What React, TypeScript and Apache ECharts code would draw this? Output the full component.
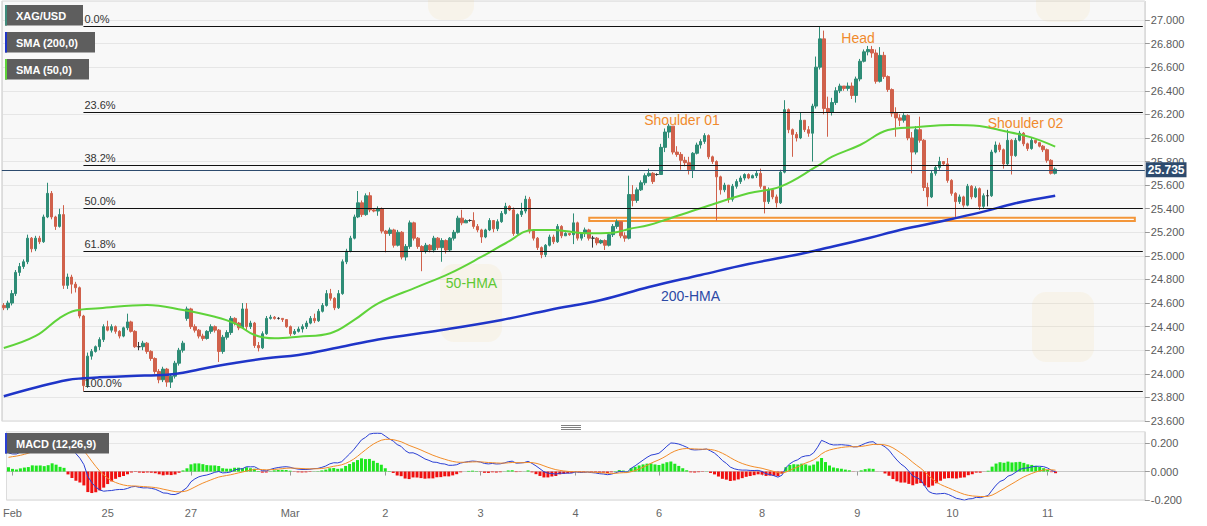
import React, { useEffect, useRef } from "react";
import * as echarts from "echarts";

// ---------- DATA (hourly XAG/USD) ----------
const firstOpen = 24.58;
const sessionOpens: [number, number][] = [[46, 24.47], [164, 25.69]];

const closes = [
  24.56,24.60,24.68,24.86,24.91,24.95,25.15,25.06,25.15,25.12,
  25.33,25.53,25.33,25.25,25.35,24.75,24.82,24.76,24.73,24.49,
  23.90,24.15,24.19,24.23,24.29,24.40,24.37,24.40,24.36,24.32,
  24.39,24.44,24.36,24.23,24.23,24.26,24.19,24.13,24.02,23.95,
  24.04,23.93,23.98,24.09,24.20,24.26,24.55,24.40,24.37,24.32,
  24.30,24.36,24.40,24.37,24.19,24.31,24.35,24.47,24.43,24.39,
  24.55,24.40,24.43,24.24,24.22,24.34,24.47,24.48,24.47,24.47,
  24.46,24.40,24.34,24.36,24.38,24.40,24.43,24.47,24.45,24.53,
  24.58,24.68,24.64,24.56,24.68,24.95,25.04,25.15,25.33,25.45,
  25.35,25.51,25.39,25.38,25.40,25.21,25.19,25.22,25.09,25.20,
  24.99,25.08,25.28,25.15,25.08,25.04,25.09,25.05,25.15,25.07,
  25.13,25.05,25.15,25.20,25.32,25.28,25.30,25.30,25.25,25.22,
  25.16,25.22,25.30,25.23,25.29,25.36,25.42,25.39,25.19,25.35,
  25.38,25.48,25.21,25.15,25.07,25.01,25.09,25.16,25.12,25.25,
  25.17,25.19,25.18,25.28,25.15,25.19,25.22,25.15,25.15,25.11,
  25.13,25.09,25.18,25.25,25.29,25.17,25.15,25.52,25.47,25.56,
  25.62,25.68,25.70,25.63,25.69,25.92,26.05,26.10,25.88,25.86,
  25.81,25.79,25.73,25.87,25.94,25.97,26.02,25.84,25.80,25.67,
  25.56,25.60,25.48,25.59,25.63,25.66,25.69,25.66,25.68,25.70,
  25.59,25.46,25.56,25.50,25.45,25.71,26.24,26.07,26.03,26.00,
  26.15,26.07,26.04,26.27,26.60,26.84,26.25,26.22,26.30,26.40,
  26.44,26.42,26.44,26.36,26.50,26.65,26.73,26.75,26.72,26.48,
  26.70,26.52,26.41,26.21,26.17,26.15,26.19,26.00,25.88,26.07,
  25.98,25.58,25.50,25.70,25.75,25.80,25.78,25.64,25.53,25.46,
  25.50,25.43,25.59,25.50,25.57,25.42,25.51,25.51,25.88,25.94,
  25.90,25.78,25.98,25.85,25.98,26.04,25.95,25.91,25.98,25.96,
  25.93,25.90,25.81,25.70,25.735,
];

const highs = [
  24.60,24.62,24.71,24.88,24.94,24.97,25.18,25.16,25.17,25.17,
  25.35,25.62,25.55,25.34,25.40,25.43,24.85,24.84,24.78,24.74,
  24.50,24.18,24.21,24.24,24.31,24.42,24.45,24.42,24.41,24.37,
  24.40,24.51,24.45,24.37,24.27,24.28,24.27,24.20,24.14,24.04,
  24.06,24.05,24.00,24.11,24.22,24.28,24.57,24.56,24.42,24.38,
  24.34,24.37,24.42,24.41,24.38,24.33,24.37,24.49,24.48,24.44,
  24.60,24.60,24.45,24.44,24.27,24.36,24.49,24.50,24.49,24.48,
  24.47,24.46,24.41,24.38,24.40,24.42,24.45,24.49,24.51,24.55,
  24.60,24.71,24.72,24.65,24.71,24.97,25.06,25.17,25.35,25.55,
  25.47,25.53,25.54,25.40,25.42,25.41,25.22,25.24,25.23,25.22,
  25.21,25.10,25.30,25.29,25.16,25.09,25.11,25.10,25.17,25.16,
  25.15,25.14,25.16,25.22,25.34,25.39,25.31,25.31,25.37,25.27,
  25.23,25.23,25.32,25.26,25.31,25.38,25.45,25.43,25.41,25.36,
  25.45,25.51,25.50,25.21,25.16,25.08,25.10,25.18,25.18,25.27,
  25.26,25.20,25.19,25.36,25.29,25.20,25.24,25.23,25.17,25.16,
  25.14,25.14,25.19,25.27,25.31,25.29,25.20,25.68,25.60,25.58,
  25.64,25.70,25.74,25.71,25.70,25.95,26.08,26.12,26.10,25.93,
  25.88,25.84,25.84,25.88,25.96,25.99,26.04,26.03,25.85,25.81,
  25.68,25.62,25.60,25.61,25.65,25.68,25.70,25.70,25.69,25.72,
  25.74,25.59,25.58,25.57,25.52,25.73,26.32,26.25,26.08,26.05,
  26.22,26.15,26.10,26.29,26.69,26.94,26.91,26.35,26.34,26.43,
  26.46,26.44,26.47,26.47,26.52,26.67,26.75,26.78,26.78,26.75,
  26.77,26.73,26.53,26.42,26.26,26.20,26.21,26.20,26.05,26.10,
  26.18,25.99,25.62,25.72,25.77,25.84,25.80,25.83,25.65,25.54,
  25.52,25.51,25.61,25.60,25.59,25.58,25.53,25.56,25.90,25.97,
  25.96,25.91,26.07,25.99,26.00,26.06,26.05,25.96,26.00,25.97,
  25.94,25.94,25.91,25.82,25.75,
];

const lows = [
  24.54,24.54,24.58,24.66,24.83,24.89,24.93,25.03,25.04,25.10,
  25.11,25.32,25.31,25.22,25.24,24.72,24.72,24.68,24.69,24.47,
  23.855,23.88,24.12,24.18,24.20,24.27,24.36,24.35,24.34,24.30,
  24.31,24.37,24.35,24.22,24.20,24.20,24.17,24.11,24.00,23.92,
  23.93,23.89,23.88,23.96,24.07,24.18,24.45,24.38,24.35,24.30,
  24.28,24.29,24.34,24.35,24.10,24.17,24.29,24.33,24.41,24.37,
  24.38,24.37,24.38,24.22,24.19,24.21,24.33,24.46,24.46,24.46,
  24.44,24.39,24.32,24.33,24.35,24.35,24.38,24.42,24.43,24.44,
  24.52,24.57,24.62,24.54,24.55,24.67,24.93,25.03,25.14,25.32,
  25.33,25.34,25.37,25.37,25.34,25.19,25.03,25.17,25.07,25.08,
  24.97,24.96,25.06,25.13,25.06,24.87,25.02,25.03,25.03,25.05,
  24.95,25.02,25.04,25.13,25.19,25.26,25.29,25.29,25.23,25.20,
  25.11,25.15,25.21,25.20,25.21,25.28,25.35,25.38,25.17,25.18,
  25.33,25.36,25.19,25.13,25.05,24.98,24.99,25.08,25.10,25.11,
  25.15,25.17,25.17,25.10,25.13,25.13,25.16,25.13,25.07,25.09,
  25.10,25.05,25.08,25.16,25.23,25.15,25.12,25.14,25.42,25.45,
  25.55,25.60,25.67,25.61,25.68,25.69,25.88,26.00,25.86,25.84,
  25.73,25.76,25.69,25.66,25.86,25.91,25.95,25.82,25.78,25.30,
  25.52,25.54,25.45,25.46,25.57,25.61,25.64,25.65,25.66,25.66,
  25.57,25.36,25.44,25.48,25.41,25.44,25.70,26.04,25.84,25.97,
  25.99,26.05,26.01,25.80,26.25,26.58,26.20,26.01,26.19,26.28,
  26.38,26.40,26.40,26.33,26.30,26.48,26.64,26.70,26.68,26.46,
  26.47,26.50,26.39,26.18,26.01,26.10,26.13,25.98,25.70,25.86,
  25.96,25.55,25.42,25.49,25.68,25.73,25.77,25.62,25.51,25.33,
  25.44,25.41,25.42,25.48,25.49,25.39,25.40,25.42,25.50,25.87,
  25.88,25.74,25.77,25.69,25.84,25.97,25.93,25.89,25.90,25.95,
  25.92,25.88,25.79,25.69,25.69,
];

const totalSlots = 287;
const dayStarts = [1, 25, 46, 71, 95, 119, 143, 164, 190, 214, 238, 262];
const dayLabels = ["Feb", "25", "27", "Mar", "2", "3", "4", "6", "8", "9", "10", "11"];
const monthStart = 71;

// moving averages: [candle index, value]
const sma200Pts: [number, number][] = [
  [0, 23.81], [8, 23.884], [16, 23.948], [20, 23.962], [24, 23.97], [32, 23.981],
  [41, 23.993], [45, 24.009], [49, 24.037], [58, 24.091], [66, 24.132], [74, 24.16],
  [84, 24.223], [94, 24.291], [110, 24.372], [125, 24.457], [137, 24.541], [150, 24.626],
  [162, 24.736], [175, 24.838], [187, 24.931], [200, 25.016], [205, 25.054], [217, 25.149],
  [225, 25.22], [233, 25.276], [238, 25.313], [246, 25.375], [254, 25.446], [264, 25.51],
];
const sma50Pts: [number, number][] = [
  [0, 24.219], [8, 24.321], [14, 24.473], [18, 24.537], [24, 24.556], [36, 24.584],
  [45, 24.541], [53, 24.484], [58, 24.428], [63, 24.329], [68, 24.301], [74, 24.315],
  [82, 24.344], [88, 24.457], [94, 24.598], [104, 24.739], [112, 24.852], [120, 24.993],
  [126, 25.107], [133, 25.22], [138, 25.22], [146, 25.192], [153, 25.197], [157, 25.228],
  [162, 25.262], [166, 25.304], [175, 25.404], [187, 25.531], [195, 25.587], [204, 25.756],
  [208, 25.841], [215, 25.94], [222, 26.067], [229, 26.09], [238, 26.11], [245, 26.101],
  [250, 26.067], [258, 26.005], [264, 25.926],
];

const fibLevels = [26.945, 26.216, 25.765, 25.4, 25.035, 23.855];
const fibLabels = ["0.0%", "23.6%", "38.2%", "50.0%", "61.8%", "100.0%"];
const fibStart = 20;
const supportZone = [25.296, 25.324];
const supportSpan = [147, 284];
const lastPrice = 25.735;
const macdSeed = [0.13, 0.1]; // MACD and signal at the first candle

// ---------- COLOURS / LAYOUT ----------
const UP = "#2e8c76";
const DOWN = "#d0614b";
const BLUE = "#1f35c8";
const GREEN = "#5fd33a";
const ORANGE = "#f08a2c";
const FONT = "'Liberation Sans', Arial, sans-serif";

export default function App() {
  const ref = useRef<HTMLDivElement>(null);

  useEffect(() => {
    if (!ref.current) return;
    const chart = echarts.init(ref.current, null, { renderer: "svg" });

    const cats = Array.from({ length: totalSlots }, (_, i) => String(i));
    const labelMap = new Map<number, string>();
    dayStarts.forEach((d, k) => labelMap.set(d, dayLabels[k]));

    const candleData = closes.map((c, i) => {
      let o = i === 0 ? firstOpen : closes[i - 1];
      const so = sessionOpens.find((s) => s[0] === i);
      if (so) o = so[1];
      const lo = Math.min(lows[i], o, c);
      const hi = Math.max(highs[i], o, c);
      return [o, c, lo, hi];
    });

    // MACD (12,26,9) from closes
    const a12 = 2 / 13, a26 = 2 / 27, a9 = 2 / 10;
    let e12 = closes[0];
    let e26 = closes[0] - macdSeed[0];
    let sg = macdSeed[1];
    const macdLine: number[] = [];
    const sigLine: number[] = [];
    const hist: any[] = [];
    closes.forEach((c, i) => {
      if (i > 0) {
        e12 += a12 * (c - e12);
        e26 += a26 * (c - e26);
      }
      const m = e12 - e26;
      if (i > 0) sg += a9 * (m - sg);
      macdLine.push(+m.toFixed(4));
      sigLine.push(+sg.toFixed(4));
      const h = m - sg;
      hist.push({ value: +h.toFixed(4), itemStyle: { color: h >= 0 ? "#1ee61e" : "#f01010" } });
    });

    const fibLines = fibLevels.map((lvl, k) => [
      {
        coord: [fibStart, lvl],
        label: {
          show: true,
          position: "insideStartTop",
          formatter: fibLabels[k],
          color: "#333",
          fontSize: 11,
          fontFamily: FONT,
          distance: [1, 2],
        },
      },
      { coord: [totalSlots - 1, lvl] },
    ]);

    const legendBoxes = [
      { label: "XAG/USD", y: 5, w: 78, color: "#3f8c7c" },
      { label: "SMA (200,0)", y: 32, w: 90, color: BLUE },
      { label: "SMA (50,0)", y: 59, w: 84, color: GREEN },
      { label: "MACD (12,26,9)", y: 433, w: 104, color: "#2a3fd4" },
    ];

    const graphic: any[] = [];
    // faint watermark logos
    const wy = "rgba(245,200,100,0.09)";
    graphic.push(
      { type: "rect", z: 1, shape: { x: 440, y: 264, width: 62, height: 78, r: 14 }, style: { fill: wy } },
      { type: "rect", z: 1, shape: { x: 1032, y: 292, width: 62, height: 70, r: 14 }, style: { fill: wy } },
      { type: "rect", z: 1, shape: { x: 428, y: -30, width: 46, height: 50, r: 14 }, style: { fill: wy } },
      { type: "rect", z: 1, shape: { x: 1036, y: -30, width: 54, height: 52, r: 14 }, style: { fill: wy } }
    );
    legendBoxes.forEach((b) => {
      graphic.push(
        { type: "rect", z: 100, shape: { x: 5, y: b.y, width: b.w, height: 20.5 }, style: { fill: "#5e5e5e" } },
        { type: "rect", z: 101, shape: { x: 5, y: b.y, width: 2, height: 20.5 }, style: { fill: b.color } },
        { type: "text", z: 101, x: 16, y: b.y + 10.5, style: { text: b.label, font: `bold 11px ${FONT}`, fill: "#fff", textVerticalAlign: "middle" } }
      );
    });
    const notes = [
      { t: "Head", x: 858, y: 37.5, c: ORANGE },
      { t: "Shoulder 01", x: 682, y: 119.5, c: ORANGE },
      { t: "Shoulder 02", x: 1025.5, y: 122.5, c: ORANGE },
      { t: "50-HMA", x: 471.5, y: 283, c: "#5ec832" },
      { t: "200-HMA", x: 690.5, y: 296, c: "#2c49a5" },
    ];
    notes.forEach((n) =>
      graphic.push({
        type: "text", z: 100, x: n.x, y: n.y,
        style: { text: n.t, font: `14px ${FONT}`, fill: n.c, textAlign: "center", textVerticalAlign: "middle" },
      })
    );
    [425.5, 427.5, 429.5].forEach((yy) =>
      graphic.push({ type: "line", z: 100, shape: { x1: 561, y1: yy, x2: 581, y2: yy }, style: { stroke: "#808080", lineWidth: 1 } })
    );

    const yLabel = {
      formatter: (v: number) => v.toFixed(3),
      color: "#5a5a5a",
      fontSize: 11,
      fontFamily: FONT,
      margin: 6,
      showMaxLabel: false,
    };

    chart.setOption({
      animation: false,
      backgroundColor: "#fff",
      textStyle: { fontFamily: FONT },
      grid: [
        { left: 1.8, top: 1, width: 1143, height: 420, show: true, backgroundColor: "#f8f8f8", borderColor: "#d6d6d6", borderWidth: 1 },
        { left: 1.8, top: 431.7, width: 1143, height: 68.3, show: true, backgroundColor: "#f8f8f8", borderColor: "#d6d6d6", borderWidth: 1 },
      ],
      xAxis: [
        {
          gridIndex: 0, type: "category", data: cats, boundaryGap: true,
          axisLine: { show: false }, axisTick: { show: false }, axisLabel: { show: false },
          splitLine: { show: true, interval: (i: number) => i === monthStart, lineStyle: { color: "#dcdcdc" } },
        },
        {
          gridIndex: 1, type: "category", data: cats, boundaryGap: true,
          axisLine: { show: true, lineStyle: { color: "#c8c8c8" } },
          axisTick: { show: true, alignWithLabel: true, length: 4, interval: (i: number) => labelMap.has(i), lineStyle: { color: "#999" } },
          axisLabel: {
            interval: (i: number) => labelMap.has(i),
            formatter: (_v: string, i: number) => labelMap.get(i) || "",
            color: "#666", fontSize: 11, fontFamily: FONT, margin: 7,
          },
          splitLine: { show: true, interval: (i: number) => i === monthStart, lineStyle: { color: "#dcdcdc" } },
        },
      ],
      yAxis: [
        {
          gridIndex: 0, position: "right", min: 23.6, max: 27.161, interval: 0.2,
          axisLine: { show: false },
          axisTick: { show: true, length: 5, lineStyle: { color: "#999" } },
          axisLabel: yLabel,
          splitLine: { show: true, lineStyle: { color: "#e6e6e6" } },
        },
        {
          gridIndex: 1, position: "right", min: -0.2, max: 0.28, interval: 0.2,
          axisLine: { show: false },
          axisTick: { show: true, length: 5, lineStyle: { color: "#999" } },
          axisLabel: yLabel,
          splitLine: { show: true, lineStyle: { color: "#e6e6e6" } },
        },
      ],
      graphic,
      series: [
        {
          type: "candlestick", xAxisIndex: 0, yAxisIndex: 0, data: candleData, barWidth: 3,
          itemStyle: { color: UP, color0: DOWN, borderColor: UP, borderColor0: DOWN, borderColorDoji: "#333", borderWidth: 1 },
          markArea: {
            silent: true,
            itemStyle: { color: "rgba(255,255,255,0.7)", borderColor: "#f3963a", borderWidth: 2 },
            data: [[{ coord: [supportSpan[0], supportZone[1]] }, { coord: [supportSpan[1], supportZone[0]] }]],
          },
          markLine: {
            silent: true, symbol: ["none", "none"],
            lineStyle: { color: "#111", width: 1, type: "solid" },
            data: [
              ...fibLines,
              {
                yAxis: lastPrice,
                lineStyle: { color: "#2d4b6e", width: 1, type: "solid" },
                label: {
                  show: true, position: "end", formatter: lastPrice.toFixed(3),
                  backgroundColor: "#2d4b6e", color: "#fff", fontWeight: "bold",
                  fontSize: 12, fontFamily: FONT, padding: [2, 2, 1, 2], distance: 1,
                },
              },
            ],
          },
        },
        {
          type: "line", xAxisIndex: 0, yAxisIndex: 0, data: sma200Pts, smooth: 0.4,
          showSymbol: false, z: 3, lineStyle: { color: BLUE, width: 2.5 },
        },
        {
          type: "line", xAxisIndex: 0, yAxisIndex: 0, data: sma50Pts, smooth: 0.4,
          showSymbol: false, z: 3, lineStyle: { color: GREEN, width: 2 },
        },
        { type: "bar", xAxisIndex: 1, yAxisIndex: 1, data: hist, barWidth: 3 },
        {
          type: "line", xAxisIndex: 1, yAxisIndex: 1, data: macdLine, showSymbol: false,
          lineStyle: { color: "#2a3fd4", width: 1 }, z: 4,
        },
        {
          type: "line", xAxisIndex: 1, yAxisIndex: 1, data: sigLine, showSymbol: false,
          lineStyle: { color: "#f28c28", width: 1 }, z: 4,
        },
      ],
    });

    return () => chart.dispose();
  }, []);

  return (
    <div
      ref={ref}
      style={{ position: "fixed", left: 0, top: 0, width: 1207, height: 526, background: "#fff" }}
    />
  );
}
